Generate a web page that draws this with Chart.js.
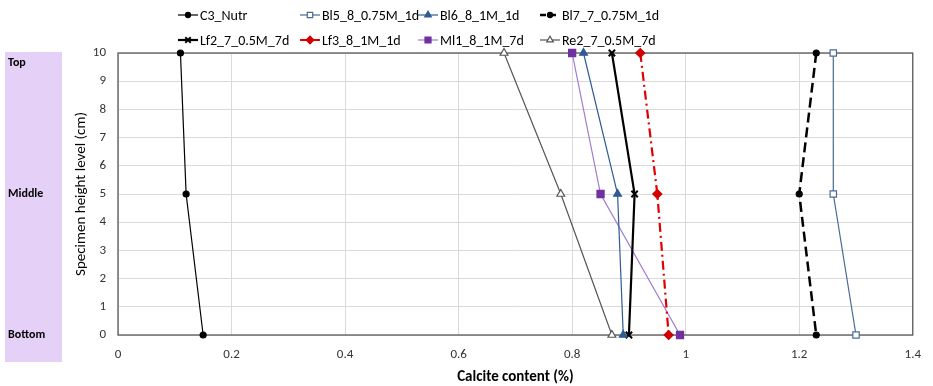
<!DOCTYPE html>
<html>
<head>
<meta charset="utf-8">
<script src="https://cdn.jsdelivr.net/npm/chart.js@4"></script>
<style>
  html, body { margin: 0; padding: 0; background: #fff; }
  #wrap { width: 933px; height: 386px; position: relative; }
</style>
</head>
<body>
<div id="wrap"><canvas id="chart"></canvas></div>
<script>
// heights measured in the specimen (cm)
const heights = [10, 5, 0];
const xTicks = [0, 0.2, 0.4, 0.6, 0.8, 1, 1.2, 1.4];

// calcite content (%) at top / middle / bottom
const c3Nutr = [0.11, 0.12, 0.15];
const bl5 = [1.26, 1.26, 1.30];
const bl6 = [0.82, 0.88, 0.89];
const bl7 = [1.23, 1.20, 1.23];
const lf2 = [0.87, 0.91, 0.90];
const lf3 = [0.92, 0.95, 0.97];
const ml1 = [0.80, 0.85, 0.99];
const re2 = [0.68, 0.78, 0.87];

const FONT = 'Carlito, "Liberation Sans Narrow", "Open Sans", sans-serif';

const pts = vals => vals.map((v, i) => ({ x: v, y: heights[i] }));

const series = [
  { label: 'C3_Nutr', data: c3Nutr, color: '#000', width: 1.2, dash: [], style: 'circle', fill: '#000', r: 3 },
  { label: 'Bl5_8_0.75M_1d', data: bl5, color: '#4a6a96', width: 1.2, dash: [], style: 'rect', fill: '#fff', r: 4.5 },
  { label: 'Bl6_8_1M_1d', data: bl6, color: '#2f5b93', width: 1.2, dash: [], style: 'triangle', fill: '#2f5b93', r: 4.5 },
  { label: 'Bl7_7_0.75M_1d', data: bl7, color: '#000', width: 2.5, dash: [10, 5], style: 'circle', fill: '#000', r: 3 },
  { label: 'Lf2_7_0.5M_7d', data: lf2, color: '#000', width: 2.2, dash: [], style: 'crossRot', fill: '#000', r: 4.5 },
  { label: 'Lf3_8_1M_1d', data: lf3, color: '#e00000', width: 2.2, dash: [9, 4, 2, 4], style: 'rectRot', fill: '#d00000', r: 4.5 },
  { label: 'Ml1_8_1M_7d', data: ml1, color: '#a07ad0', width: 1.2, dash: [], style: 'rect', fill: '#7030a0', r: 5 },
  { label: 'Re2_7_0.5M_7d', data: re2, color: '#555', width: 1.2, dash: [], style: 'triangle', fill: '#fff', r: 4.5 }
];

const datasets = series.map(s => ({
  label: s.label,
  data: pts(s.data),
  borderColor: s.color,
  borderWidth: s.width,
  borderDash: s.dash,
  pointStyle: s.style,
  pointBackgroundColor: s.fill,
  pointBorderColor: s.style === 'crossRot' ? '#000' : (s.fill === '#fff' ? s.color : s.fill),
  pointBorderWidth: s.style === 'crossRot' ? 2 : 1.2,
  pointRadius: s.r,
  tension: 0,
  fill: false,
  clip: false
}));

// purple side band with Top / Middle / Bottom labels + frame round the plot
const sideBand = {
  id: 'sideBand',
  beforeDraw(chart) {
    const ctx = chart.ctx;
    const y = chart.scales.y;
    ctx.save();
    ctx.fillStyle = '#e5d1f8';
    ctx.fillRect(5, 52, 57, 310);
    ctx.fillStyle = '#000';
    ctx.font = 'bold 12px ' + FONT;
    ctx.textBaseline = 'middle';
    ctx.textAlign = 'left';
    ctx.fillText('Top', 8, y.getPixelForValue(10) + 10);
    ctx.fillText('Middle', 8, y.getPixelForValue(5));
    ctx.fillText('Bottom', 8, y.getPixelForValue(0));
    ctx.restore();
  },
  beforeDatasetsDraw(chart) {
    const a = chart.chartArea;
    const ctx = chart.ctx;
    ctx.save();
    ctx.strokeStyle = '#595959';
    ctx.lineWidth = 1.3;
    ctx.strokeRect(a.left, a.top, a.right - a.left, a.bottom - a.top);
    ctx.restore();
  }
};

// two-row legend like the original
const legendCols = [178, 300, 418, 540];
const legendRows = [15, 40];
const legendGrid = {
  id: 'legendGrid',
  afterDraw(chart) {
    const ctx = chart.ctx;
    chart.data.datasets.forEach((ds, i) => {
      const x = legendCols[i % 4];
      const y = legendRows[Math.floor(i / 4)];
      ctx.save();
      ctx.strokeStyle = ds.borderColor;
      ctx.lineWidth = ds.borderWidth;
      if (ds.borderDash.length === 2) ctx.setLineDash([6, 4]);
      else if (ds.borderDash.length) ctx.setLineDash([6, 3, 2, 3]);
      ctx.beginPath();
      ctx.moveTo(x, y);
      ctx.lineTo(x + 20, y);
      ctx.stroke();
      ctx.setLineDash([]);
      ctx.fillStyle = ds.pointBackgroundColor;
      ctx.strokeStyle = ds.pointBorderColor;
      ctx.lineWidth = ds.pointBorderWidth;
      Chart.helpers.drawPoint(ctx, {
        pointStyle: ds.pointStyle,
        radius: ds.pointRadius * 0.85,
        borderWidth: ds.pointBorderWidth
      }, x + 10, y);
      ctx.fillStyle = '#000';
      ctx.font = '14px ' + FONT;
      ctx.textBaseline = 'middle';
      ctx.textAlign = 'left';
      ctx.fillText(ds.label, x + 22, y + 1);
      ctx.restore();
    });
  }
};

new Chart(document.getElementById('chart'), {
  type: 'line',
  data: { datasets },
  options: {
    responsive: true,
    maintainAspectRatio: false,
    animation: false,
    layout: { padding: { left: 68, top: 53, right: 15, bottom: 0 } },
    plugins: { legend: { display: false }, tooltip: { enabled: false } },
    scales: {
      x: {
        type: 'linear',
        min: 0,
        max: 1.4,
        afterBuildTicks: s => { s.ticks = xTicks.map(v => ({ value: v })); },
        afterFit: s => { s.height = 51; },
        grid: { color: '#d9d9d9', drawTicks: false },
        border: { display: false },
        ticks: { color: '#333', font: { family: FONT, size: 13 }, padding: 12, callback: v => String(v) },
        title: { display: true, text: 'Calcite content (%)', color: '#000', font: { family: FONT, size: 15, weight: 'bold' }, padding: { top: 0, bottom: 0 } }
      },
      y: {
        type: 'linear',
        min: 0,
        max: 10,
        afterFit: s => { s.width = 50; },
        grid: { color: '#d9d9d9', drawTicks: false },
        border: { display: false },
        ticks: { stepSize: 1, color: '#333', font: { family: FONT, size: 13 }, padding: 12 },
        title: { display: true, text: 'Specimen height level (cm)', color: '#000', font: { family: FONT, size: 15 }, padding: { top: 4, bottom: 0 } }
      }
    }
  },
  plugins: [sideBand, legendGrid]
});
</script>
</body>
</html>
